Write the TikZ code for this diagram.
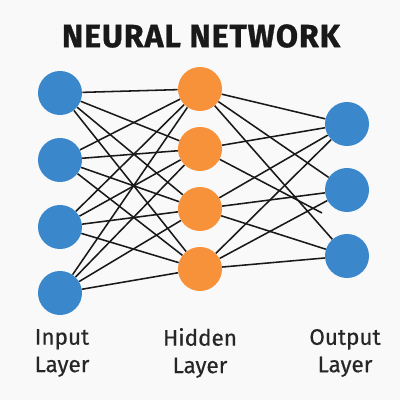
\documentclass[tikz,border=0pt]{standalone}
\usepackage{fontspec}
\setmainfont{Fira Sans}
\newfontfamily\titlefont{Fira Sans Bold}[LetterSpace=3,FakeBold=1]
\newfontfamily\labelfont{Fira Sans}[FakeBold=0.5]
\definecolor{nnblue}{HTML}{3A87CC}
\definecolor{nnorange}{HTML}{F7923A}
\definecolor{nnback}{HTML}{F9F9F9}
\begin{document}
\begin{tikzpicture}[x=0.025cm,y=-0.025cm]
\tikzstyle{neuron}=[circle,minimum size=1.1cm,inner sep=0pt]
\tikzstyle{inputneuron}=[neuron,fill=nnblue]
\tikzstyle{hiddenneuron}=[neuron,fill=nnorange]
\tikzstyle{outputneuron}=[neuron,fill=nnblue]
\tikzstyle{weight}=[draw,black!90,line width=1.1pt]
\tikzstyle{layerlabel}=[align=center,font=\labelfont\fontsize{16}{19.5}\selectfont,text=black!85]

\fill[nnback] (0,0) rectangle (400,400);
\useasboundingbox (0,0) rectangle (400,400);

\node[font=\titlefont\fontsize{22.8}{27}\selectfont,text=black!90] (title) at (201,36) {NEURAL NETWORK};

\node[inputneuron] (i1) at (60,93) {};
\node[inputneuron] (i2) at (60,160) {};
\node[inputneuron] (i3) at (60,227) {};
\node[inputneuron] (i4) at (60,293) {};

\node[hiddenneuron] (h1) at (200,89) {};
\node[hiddenneuron] (h2) at (200,149) {};
\node[hiddenneuron] (h3) at (200,209) {};
\node[hiddenneuron] (h4) at (200,269) {};

\node[outputneuron] (o1) at (347,124) {};
\node[outputneuron] (o2) at (347,190) {};
\node[outputneuron] (o3) at (347,256) {};

\coordinate (loose) at (322,213);

\foreach \i in {1,...,4}
  \foreach \h in {1,...,4}
    \path (i\i) edge[weight] (h\h);
\foreach \h in {1,3,4}
  \foreach \o in {1,2,3}
    \path (h\h) edge[weight] (o\o);
\path (h2) edge[weight] (o1);
\path (h2) edge[weight] (loose);

\node[layerlabel] (inlabel) at (62,353) {Input\\Layer};
\node[layerlabel] (hidlabel) at (200,353) {Hidden\\Layer};
\node[layerlabel] (outlabel) at (345,353) {Output\\Layer};
\end{tikzpicture}
\end{document}
